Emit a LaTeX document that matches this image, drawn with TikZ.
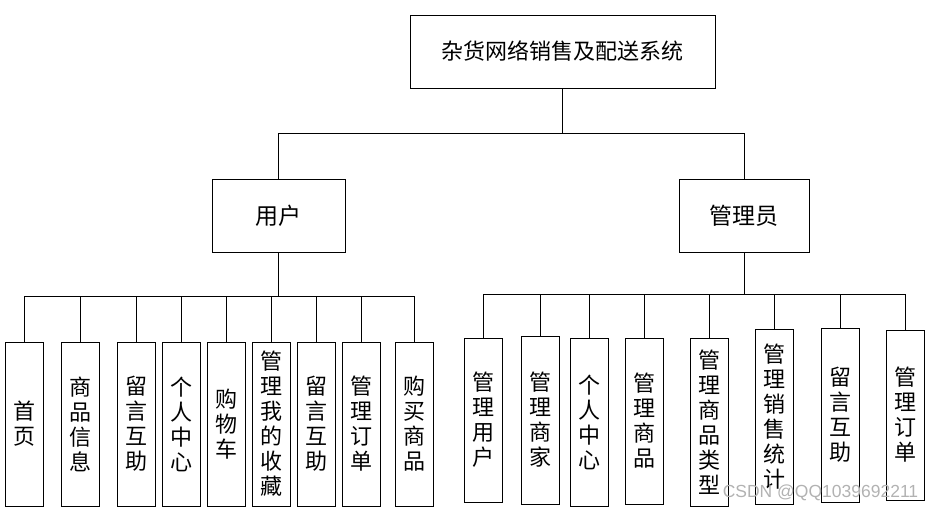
\documentclass[tikz,border=0pt]{standalone}
\usepackage{fontspec}
\setmainfont{Noto Sans CJK SC}
\newfontfamily\wmfont{Liberation Sans}
\usepackage{tikz}
\usetikzlibrary{positioning, calc}

\begin{document}
\begin{tikzpicture}[x=1pt, y=-1pt]
        \tikzstyle{block} = [rectangle, draw, line width=1pt, inner sep=0pt, align=center]
        \tikzstyle{sysblock} = [block, minimum width=305pt, minimum height=73pt, font=\fontsize{22}{26}\selectfont]
        \tikzstyle{roleblock} = [block, minimum width=133pt, minimum height=73pt, font=\fontsize{23}{27}\selectfont]
        \tikzstyle{leafbox} = [block, minimum width=38pt, minimum height=164pt, font=\fontsize{22}{25}\selectfont]
        \tikzstyle{line} = [draw, line width=1pt]

        \useasboundingbox (0,0) rectangle (935,512);

        \node [sysblock] (sys) at (562.5,51.5) {杂货网络销售及配送系统};
        \node [roleblock] (user) at (278.5,215.5) {用户};
        \node [roleblock, minimum width=130pt] (admin) at (744,215.5) {管理员};

        % user side
        \node [leafbox] (home) at (24,424) {首\\页};
        \node [leafbox] (goods) at (80,424) {商\\品\\信\\息};
        \node [leafbox] (umsg) at (136,424) {留\\言\\互\\助};
        \node [leafbox] (ucenter) at (181,424) {个\\人\\中\\心};
        \node [leafbox] (cart) at (226,424) {购\\物\\车};
        \node [leafbox] (fav) at (271,424) {管\\理\\我\\的\\收\\藏};
        \node [leafbox] (umsgb) at (316,424) {留\\言\\互\\助};
        \node [leafbox] (uorder) at (361,424) {管\\理\\订\\单};
        \node [leafbox] (buy) at (414.5,424) {购\\买\\商\\品};

        % admin side
        \node [leafbox] (muser) at (483,420) {管\\理\\用\\户};
        \node [leafbox, minimum height=168pt] (mshop) at (540,420) {管\\理\\商\\家};
        \node [leafbox, minimum height=168pt] (acenter) at (589,422) {个\\人\\中\\心};
        \node [leafbox, minimum height=166pt] (mgoods) at (644,421) {管\\理\\商\\品};
        \node [leafbox, minimum height=168pt] (mtype) at (709,422) {管\\理\\商\\品\\类\\型};
        \node [leafbox, minimum height=175pt] (mstat) at (774.5,416.5) {管\\理\\销\\售\\统\\计};
        \node [leafbox, minimum height=174pt] (amsg) at (840,415) {留\\言\\互\\助};
        \node [leafbox, minimum height=170pt] (morder) at (905.5,415) {管\\理\\订\\单};

        \coordinate (topbus) at (0,133);
        \coordinate (userbus) at (0,296);
        \coordinate (adminbus) at (0,294);

        \path [line] (sys.south) -- (sys.south |- topbus) -| (user.north);
        \path [line] (sys.south) -- (sys.south |- topbus) -| (admin.north);

        \path [line] (user.south) -- (user.south |- userbus) -| (home.north);
        \path [line] (user.south) -- (user.south |- userbus) -| (goods.north);
        \path [line] (user.south) -- (user.south |- userbus) -| (umsg.north);
        \path [line] (user.south) -- (user.south |- userbus) -| (ucenter.north);
        \path [line] (user.south) -- (user.south |- userbus) -| (cart.north);
        \path [line] (user.south) -- (user.south |- userbus) -| (fav.north);
        \path [line] (user.south) -- (user.south |- userbus) -| (umsgb.north);
        \path [line] (user.south) -- (user.south |- userbus) -| (uorder.north);
        \path [line] (user.south) -- (user.south |- userbus) -| (buy.north);

        \path [line] (admin.south) -- (admin.south |- adminbus) -| (muser.north);
        \path [line] (admin.south) -- (admin.south |- adminbus) -| (mshop.north);
        \path [line] (admin.south) -- (admin.south |- adminbus) -| (acenter.north);
        \path [line] (admin.south) -- (admin.south |- adminbus) -| (mgoods.north);
        \path [line] (admin.south) -- (admin.south |- adminbus) -| (mtype.north);
        \path [line] (admin.south) -- (admin.south |- adminbus) -| (mstat.north);
        \path [line] (admin.south) -- (admin.south |- adminbus) -| (amsg.north);
        \path [line] (admin.south) -- (admin.south |- adminbus) -| (morder.north);

        \node [text=gray!60, font=\wmfont\fontsize{17.5}{20}\selectfont] (mark) at (820.5,493) {CSDN @QQ1039692211};
    \end{tikzpicture}
\end{document}
